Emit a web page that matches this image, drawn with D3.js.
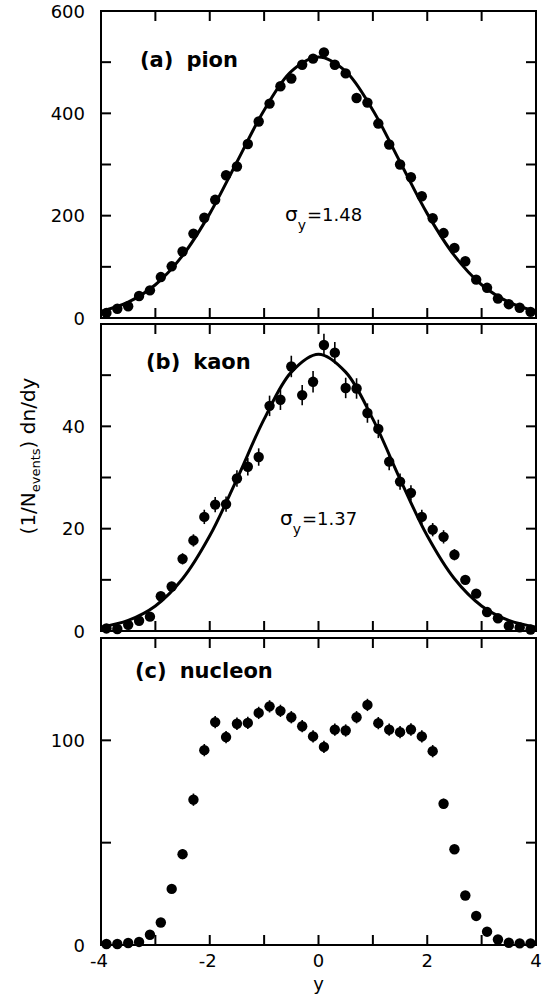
<!DOCTYPE html>
<html>
  <head>
    <meta charset="utf-8">
    <title>rapidity distributions</title>
    <style>
      body { margin: 0; background: #fff; }
      text { font-family: "DejaVu Sans", sans-serif; fill: #000; }
    </style>
  </head>
  <body>
    <svg id="chart" width="543" height="996"></svg>
    <script src="https://d3js.org/d3.v7.min.js"></script>
    <script>
      // bin centres in rapidity
      var yBins = [-3.9, -3.7, -3.5, -3.3, -3.1, -2.9, -2.7, -2.5, -2.3, -2.1,
                   -1.9, -1.7, -1.5, -1.3, -1.1, -0.9, -0.7, -0.5, -0.3, -0.1,
                   0.1, 0.3, 0.5, 0.7, 0.9, 1.1, 1.3, 1.5, 1.7, 1.9,
                   2.1, 2.3, 2.5, 2.7, 2.9, 3.1, 3.3, 3.5, 3.7, 3.9];

      var pionVals = [10, 18, 23, 43, 54, 80, 101, 130, 165, 196,
                      231, 279, 296, 340, 384, 419, 453, 468, 495, 507,
                      519, 495, 478, 430, 421, 380, 339, 300, 275, 238,
                      195, 166, 137, 111, 75, 59, 38, 27, 20, 12];

      var kaonVals = [0.5, 0.4, 1.2, 2.0, 2.8, 6.8, 8.7, 14.1, 17.7, 22.3,
                      24.7, 24.8, 29.8, 32.1, 34.0, 44.0, 45.2, 51.7, 46.1, 48.7,
                      55.9, 54.4, 47.5, 47.4, 42.6, 39.5, 33.1, 29.2, 27.0, 22.3,
                      19.8, 18.4, 14.9, 10.0, 7.3, 3.7, 2.5, 1.0, 0.7, 0.3];
      var kaonErr = [0.3, 0.3, 0.4, 0.5, 0.6, 0.8, 0.9, 1.1, 1.2, 1.4,
                     1.5, 1.5, 1.6, 1.7, 1.7, 2.0, 2.0, 2.1, 2.0, 2.1,
                     2.2, 2.1, 2.0, 2.0, 1.9, 1.8, 1.7, 1.6, 1.5, 1.4,
                     1.3, 1.3, 1.1, 0.9, 0.8, 0.6, 0.5, 0.4, 0.3, 0.3];

      var nucleonVals = [0.5, 0.5, 1, 1.5, 5, 11, 27.4, 44.4, 71, 95.2,
                         108.9, 101.6, 108.1, 108.5, 113.4, 116.6, 114.4, 111.3, 106.9, 101.9,
                         96.8, 105.2, 104.8, 111.3, 117.3, 108.4, 105.2, 104.0, 105.3, 101.9,
                         94.7, 69, 46.8, 24.2, 14.2, 6.5, 2.7, 1.1, 0.8, 0.8];
      var nucleonErr = [0.5, 0.5, 0.5, 0.5, 1, 1.5, 2, 2.5, 3, 3,
                        3, 3, 3, 3, 3, 3, 3, 3, 3, 3,
                        3, 3, 3, 3, 3, 3, 3, 3, 3, 3,
                        3, 2.5, 2, 1.5, 1, 0.5, 0.5, 0.5, 0.5, 0.5];

      // fitted gaussians, every half unit
      var fitY = [-4, -3.5, -3, -2.5, -2, -1.5, -1, -0.5, 0, 0.5, 1, 1.5, 2, 2.5, 3, 3.5, 4];
      var pionFit = [13, 31, 65, 122, 204, 305, 406, 482, 510, 482, 406, 305, 204, 122, 65, 31, 13];
      var kaonFit = [0.76, 2.07, 4.9, 10.2, 18.6, 29.7, 41.4, 50.6, 54.1, 50.6, 41.4, 29.7, 18.6, 10.2, 4.9, 2.07, 0.76];

      var xTickLabels = [-4, -2, 0, 2, 4];

      var svg = d3.select("#chart");
      var left = 101, right = 536;
      var x = d3.scaleLinear().domain([-4, 4]).range([left, right]);

      var panels = [
        { name: "(a)", part: "pion", top: 11, bottom: 318, max: 600, step: 100, labels: [0, 200, 400, 600],
          vals: pionVals, err: null, fit: pionFit, sigma: "=1.48", sx: 285, sy: 221, lx: 140, ly: 67 },
        { name: "(b)", part: "kaon", top: 324, bottom: 631, max: 60, step: 10, labels: [0, 20, 40],
          vals: kaonVals, err: kaonErr, fit: kaonFit, sigma: "=1.37", sx: 280, sy: 525, lx: 146, ly: 369 },
        { name: "(c)", part: "nucleon", top: 638, bottom: 945, max: 150, step: 50, labels: [0, 100],
          vals: nucleonVals, err: nucleonErr, fit: null, lx: 135, ly: 678 }
      ];

      panels.forEach(function (p, i) {
        var y = d3.scaleLinear().domain([0, p.max]).range([p.bottom, p.top]);
        var g = svg.append("g");

        // inward ticks on all four sides
        var yTicks = d3.range(0, p.max + 0.001, p.step);
        var xTicks = d3.range(-3, 3.001, 1);
        var tl = 10;
        g.selectAll(".yl").data(yTicks).enter().append("line")
          .attr("x1", left).attr("x2", left + tl)
          .attr("y1", d => y(d)).attr("y2", d => y(d))
          .attr("stroke", "#000").attr("stroke-width", 2);
        g.selectAll(".yr").data(yTicks).enter().append("line")
          .attr("x1", right).attr("x2", right - tl)
          .attr("y1", d => y(d)).attr("y2", d => y(d))
          .attr("stroke", "#000").attr("stroke-width", 2);
        g.selectAll(".xb").data(xTicks).enter().append("line")
          .attr("x1", d => x(d)).attr("x2", d => x(d))
          .attr("y1", p.bottom).attr("y2", p.bottom - tl)
          .attr("stroke", "#000").attr("stroke-width", 2);
        g.selectAll(".xt").data(xTicks).enter().append("line")
          .attr("x1", d => x(d)).attr("x2", d => x(d))
          .attr("y1", p.top).attr("y2", p.top + tl)
          .attr("stroke", "#000").attr("stroke-width", 2);

        g.append("rect")
          .attr("x", left).attr("y", p.top)
          .attr("width", right - left).attr("height", p.bottom - p.top)
          .attr("fill", "none").attr("stroke", "#000").attr("stroke-width", 2);

        g.selectAll(".ylab").data(p.labels).enter().append("text")
          .attr("x", left - 16).attr("y", d => y(d) + 6.5)
          .attr("text-anchor", "end").attr("font-size", 18)
          .text(d => d);

        // fit curve
        if (p.fit) {
          var line = d3.line()
            .x((d, j) => x(fitY[j]))
            .y(d => y(d))
            .curve(d3.curveCatmullRom);
          g.append("path").datum(p.fit)
            .attr("d", line)
            .attr("fill", "none").attr("stroke", "#000").attr("stroke-width", 3);
        }

        // error bars
        if (p.err) {
          g.selectAll(".err").data(p.vals).enter().append("line")
            .attr("x1", (d, j) => x(yBins[j])).attr("x2", (d, j) => x(yBins[j]))
            .attr("y1", (d, j) => y(d - p.err[j])).attr("y2", (d, j) => y(d + p.err[j]))
            .attr("stroke", "#000").attr("stroke-width", 1.6);
        }

        g.selectAll(".pt").data(p.vals).enter().append("circle")
          .attr("cx", (d, j) => x(yBins[j]))
          .attr("cy", d => y(d))
          .attr("r", 5.2)
          .attr("fill", "#000");

        // panel label
        var lab = g.append("text")
          .attr("x", p.lx).attr("y", p.ly)
          .attr("font-size", 21).attr("font-weight", "bold");
        lab.append("tspan").text(p.name);
        lab.append("tspan").attr("dx", 13).text(p.part);

        if (p.sigma) {
          var s = g.append("text").attr("x", p.sx).attr("y", p.sy).attr("font-size", 18);
          s.append("tspan").attr("font-size", 20).text("σ");
          s.append("tspan").attr("font-size", 14).attr("dy", 9).text("y");
          s.append("tspan").attr("dy", -9).attr("dx", 1).text(p.sigma);
        }
      });

      // x tick labels below the bottom panel
      svg.selectAll(".xlab").data(xTickLabels).enter().append("text")
        .attr("x", d => x(d) + (d < 0 ? -2 : 0)).attr("y", 967)
        .attr("text-anchor", "middle").attr("font-size", 18)
        .text(d => d < 0 ? "-" + Math.abs(d) : d);

      svg.append("text")
        .attr("x", x(0)).attr("y", 990)
        .attr("text-anchor", "middle").attr("font-size", 18)
        .text("y");

      // y axis title
      var yt = svg.append("text")
        .attr("transform", "translate(35,456) rotate(-90)")
        .attr("text-anchor", "middle").attr("font-size", 20);
      yt.append("tspan").text("(1/N");
      yt.append("tspan").attr("font-size", 13).attr("dy", 5).text("events");
      yt.append("tspan").attr("dy", -5).text(") dn/dy");
    </script>
  </body>
</html>
